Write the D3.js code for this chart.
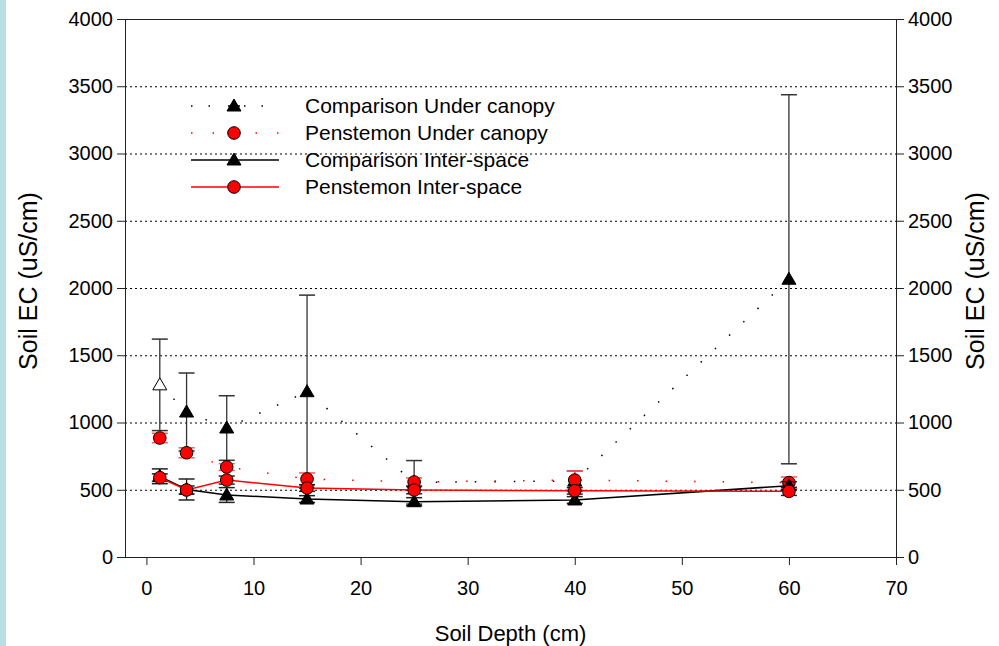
<!DOCTYPE html>
<html>
<head>
<meta charset="utf-8">
<script src="https://cdn.jsdelivr.net/npm/d3@7"></script>
<style>
  body { margin: 0; background: white; }
  #graf { position: relative; width: 999px; height: 646px; }
  text { font-family: "Liberation Sans", Arial, sans-serif; fill: black; }
</style>
</head>
<body>
<div id="graf"></div>
<script>
// Datos
const depth = [1.25, 3.75, 7.5, 15, 25, 40, 60]
const cucMean = [1280, 1078, 959, 1229, 555, 565, 2065]
const cucErr = [340, 290, 240, 718, 162, 75, 1372]
const pucMean = [885, 775, 669, 580, 558, 572, 553]
const pucErr = [35, 37, 25, 45, 30, 68, 42]
const ciMean = [600, 502, 461, 431, 411, 424, 530]
const ciErr = [55, 78, 55, 25, 30, 25, 30]
const piMean = [590, 498, 572, 513, 498, 493, 488]
const piErr = [28, 30, 30, 25, 28, 25, 30]

const xTicks = [0, 10, 20, 30, 40, 50, 60, 70]
const yTicks = [0, 500, 1000, 1500, 2000, 2500, 3000, 3500, 4000]
const gridTicks = [500, 1000, 1500, 2000, 2500, 3000, 3500]
const seriesNames = [
  "Comparison Under canopy",
  "Penstemon Under canopy",
  "Comparison Inter-space",
  "Penstemon Inter-space",
]

// Dimensiones
const anchoTotal = 999
const altoTotal = 646
const margins = { top: 19, right: 103, bottom: 89, left: 125 }
const ancho = anchoTotal - margins.left - margins.right
const alto = altoTotal - margins.top - margins.bottom

const svg = d3
  .select("#graf")
  .append("svg")
  .attr("width", anchoTotal)
  .attr("height", altoTotal)

// franja azul a la izquierda
svg.append("rect").attr("x", 0).attr("y", 0).attr("width", 6).attr("height", altoTotal).attr("fill", "#b9dee4")

const g = svg.append("g").attr("transform", `translate(${margins.left}, ${margins.top})`)

// Escaladores
const x = d3.scaleLinear().domain([-2, 70]).range([0, ancho])
const y = d3.scaleLinear().domain([0, 4000]).range([alto, 0])

// Rejilla
g.append("g")
  .selectAll("line")
  .data(gridTicks)
  .enter()
  .append("line")
  .attr("x1", 0)
  .attr("x2", ancho)
  .attr("y1", (d) => y(d) + 0.5)
  .attr("y2", (d) => y(d) + 0.5)
  .attr("stroke", "black")
  .attr("stroke-dasharray", "2,3")

// Ejes
const fmt = d3.format("d")
const styleAxis = (sel) => {
  sel.select(".domain").remove()
  sel.selectAll(".tick line").attr("stroke", "#222")
  sel.selectAll(".tick text").style("font-size", "20px").attr("fill", "black")
}

g.append("g")
  .attr("transform", `translate(0, ${alto})`)
  .call(d3.axisBottom(x).tickValues(xTicks).tickFormat(fmt).tickSize(8).tickPadding(16))
  .call(styleAxis)

g.append("g")
  .call(d3.axisLeft(y).tickValues(yTicks).tickFormat(fmt).tickSize(8).tickPadding(4))
  .call(styleAxis)

g.append("g")
  .attr("transform", `translate(${ancho}, 0)`)
  .call(d3.axisRight(y).tickValues(yTicks).tickFormat(fmt).tickSize(8).tickPadding(4))
  .call(styleAxis)

// marco
g.append("rect")
  .attr("x", 0.5)
  .attr("y", 0.5)
  .attr("width", ancho)
  .attr("height", alto)
  .attr("fill", "none")
  .attr("stroke", "#222")

// Titulos de ejes
svg.append("text")
  .attr("x", margins.left + x(34))
  .attr("y", 641)
  .attr("text-anchor", "middle")
  .style("font-size", "22px")
  .text("Soil Depth (cm)")

svg.append("text")
  .attr("transform", `translate(37, ${margins.top + 262}) rotate(-90)`)
  .attr("text-anchor", "middle")
  .style("font-size", "25px")
  .text("Soil EC (uS/cm)")

svg.append("text")
  .attr("transform", `translate(984, ${margins.top + 262}) rotate(-90)`)
  .attr("text-anchor", "middle")
  .style("font-size", "25px")
  .text("Soil EC (uS/cm)")

// Series
const series = [
  { name: seriesNames[0], mean: cucMean, err: cucErr, color: "black", errColor: "#333", marker: "tri", dash: "1.5,18", width: 1.5 },
  { name: seriesNames[1], mean: pucMean, err: pucErr, color: "red", errColor: "#f55", marker: "circ", dash: "1.5,27", width: 1.5 },
  { name: seriesNames[2], mean: ciMean, err: ciErr, color: "black", errColor: "#222", marker: "tri", dash: null, width: 1.5 },
  { name: seriesNames[3], mean: piMean, err: piErr, color: "red", errColor: "#222", marker: "circ", dash: null, width: 1.5 },
]

const triPath = "M0,-7L7,5L-7,5Z"

const drawMarker = (sel, s, fill) => {
  if (s.marker === "tri") {
    sel.append("path").attr("d", triPath).attr("fill", fill).attr("stroke", "black").attr("stroke-width", 1)
  } else {
    sel.append("circle").attr("r", 6.3).attr("fill", "red").attr("stroke", "black").attr("stroke-width", 1)
  }
}

const linea = d3.line().x((d) => x(d.x)).y((d) => y(d.y))

series.forEach((s, si) => {
  const pts = depth.map((d, i) => ({ x: d, y: s.mean[i], e: s.err[i] }))
  const sg = g.append("g")

  // barras de error
  const eb = sg.selectAll(".eb").data(pts).enter().append("g")
  eb.append("line")
    .attr("x1", (d) => x(d.x)).attr("x2", (d) => x(d.x))
    .attr("y1", (d) => y(d.y - d.e)).attr("y2", (d) => y(d.y + d.e))
    .attr("stroke", s.errColor).attr("stroke-width", 1.3)
  eb.selectAll(".cap")
    .data((d) => [d.y - d.e, d.y + d.e].map((v) => ({ x: d.x, v })))
    .enter()
    .append("line")
    .attr("x1", (d) => x(d.x) - 8).attr("x2", (d) => x(d.x) + 8)
    .attr("y1", (d) => y(d.v)).attr("y2", (d) => y(d.v))
    .attr("stroke", s.errColor).attr("stroke-width", 1.5)

  // linea
  sg.append("path")
    .datum(pts)
    .attr("d", linea)
    .attr("fill", "none")
    .attr("stroke", s.color)
    .attr("stroke-width", s.width)
    .attr("stroke-dasharray", s.dash)

  // marcadores
  sg.selectAll(".mk")
    .data(pts)
    .enter()
    .append("g")
    .attr("transform", (d) => `translate(${x(d.x)}, ${y(d.y)})`)
    .each(function (d, i) {
      drawMarker(d3.select(this), s, si === 0 && i === 0 ? "white" : "black")
    })
})

// Leyenda
const leyenda = svg.append("g").attr("transform", "translate(191, 106)")
series.forEach((s, i) => {
  const row = leyenda.append("g").attr("transform", `translate(0, ${i * 27})`)
  row.append("line")
    .attr("x1", 0).attr("x2", 88).attr("y1", 0).attr("y2", 0)
    .attr("stroke", s.color).attr("stroke-width", s.width)
    .attr("stroke-dasharray", s.dash ? (s.color === "red" ? "1.5,20" : "1.5,16,1.5,18,12,4") : null)
  const mk = row.append("g").attr("transform", "translate(43, 0)")
  drawMarker(mk, s, "black")
  row.append("text")
    .attr("x", 114)
    .attr("y", 7)
    .style("font-size", "21px")
    .text(s.name)
})
</script>
</body>
</html>
